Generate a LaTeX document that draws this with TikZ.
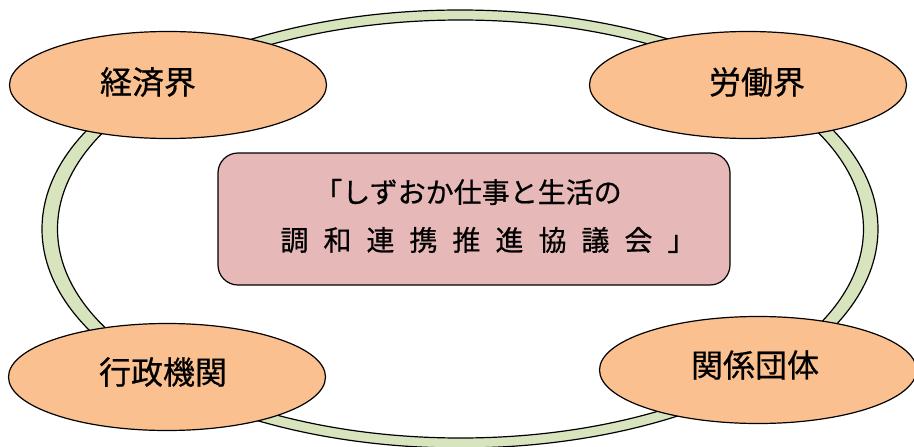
\documentclass[tikz,border=0pt]{standalone}
\usepackage{fontspec}
\newfontfamily\jpfont[FakeBold=0.6]{Noto Sans CJK JP}
\usetikzlibrary{shapes.geometric, calc, positioning}
\definecolor{ringgreen}{rgb}{0.843137, 0.894118, 0.741176}
\definecolor{partyorange}{rgb}{0.980392, 0.752941, 0.564706}
\definecolor{councilpink}{rgb}{0.901961, 0.725490, 0.721569}
\newcommand\jgap{\hspace{15pt}}

\begin{document}
\begin{tikzpicture}[x=1pt, y=-1pt, line width=1.2pt,
        every node/.style={font=\jpfont},
        party/.style={draw, ellipse, fill=partyorange, minimum width=317pt, minimum height=107pt, inner sep=0pt},
        partytext/.style={font=\jpfont\fontsize{32}{38}\selectfont},
        council/.style={draw, rounded corners=20pt, fill=councilpink, minimum width=512pt, minimum height=132pt},
        counciltext/.style={font=\jpfont\fontsize{28}{34}\selectfont, inner sep=0pt}]
        \useasboundingbox (0,0) rectangle (914,447);
        % the big ring
        \draw[fill=ringgreen, even odd rule] (460,229) ellipse [x radius=418pt, y radius=219pt]
            (460.5,229) ellipse [x radius=403pt, y radius=209pt];
        % the four partners
        \foreach \name/\cx/\cy/\dx/\dy/\txt in {keizai/168/85/-20/3/経済界, roudou/748/85/9/3/労働界,
            gyousei/167/377/-4/5/行政機関, kankei/758/370/-3/5/関係団体}{
            \node[party, label={[partytext, xshift=\dx pt, yshift=\dy pt]center:\txt}] (\name) at (\cx,\cy) {};
        }
        % the council
        \node[council] (council) at (474,219) {};
        \node[counciltext] (title1) at (468,192) {「しずおか仕事と生活の};
        \node[counciltext] (title2) at (488,240) {調\jgap 和\jgap 連\jgap 携\jgap 推\jgap 進\jgap 協\jgap 議\jgap 会\jgap 」};
    \end{tikzpicture}
\end{document}
